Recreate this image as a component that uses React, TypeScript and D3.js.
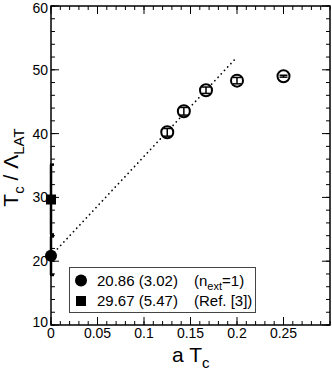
import React from 'react';
import * as d3 from 'd3';

// lattice data: a Tc = 1/Nt
const aTc = [1 / 8, 1 / 7, 1 / 6, 1 / 5, 1 / 4];
const ratio = [40.2, 43.5, 46.8, 48.3, 49.0];
const ratioErr = [0.6, 0.6, 0.5, 0.5, 0.15];

// continuum values at a Tc = 0
const contVal = [20.86, 29.67];
const contErr = [3.02, 5.47];

// linear extrapolation line (n_ext = 1)
const fitX = [0, 0.2];
const fitY = [20.86, 52.0];

const xTicks = [0, 0.05, 0.1, 0.15, 0.2, 0.25];
const yTicks = [10, 20, 30, 40, 50, 60];

const W = 332;
const H = 375;
const margin = { left: 51, right: 2, top: 6, bottom: 50 };

const font = 'Liberation Sans, Arial, Helvetica, sans-serif';

export default function App() {
  const x = d3.scaleLinear().domain([0, 0.3]).range([margin.left, W - margin.right]);
  const y = d3.scaleLinear().domain([10, 60]).range([H - margin.bottom, margin.top]);

  const x0 = x(0);
  const x1 = x(0.3);
  const y0 = y(10);
  const y1 = y(60);

  const xMinor = d3.range(0, 0.3001, 0.01);
  const yMinor = d3.range(10, 60.001, 2);

  const line = d3.line<number>().x((d, i) => x(fitX[i])).y((d) => y(d));

  // nudge the corner labels the way the original does
  const yLabelY = (t: number) => y(t) + 5 + (t === 10 ? -3 : 0) + (t === 60 ? 2 : 0);

  return (
    <svg width={W} height={H} style={{ position: 'absolute', left: 0, top: 0 }}>
      <rect width={W} height={H} fill="white" />

      {/* ticks, inward on all four sides */}
      <g stroke="#000" strokeWidth={1}>
        {xMinor.map((t, i) => (
          <g key={'xm' + i}>
            <line x1={x(t)} x2={x(t)} y1={y0} y2={y0 - 4} />
            <line x1={x(t)} x2={x(t)} y1={y1} y2={y1 + 4} />
          </g>
        ))}
        {yMinor.map((t, i) => (
          <g key={'ym' + i}>
            <line x1={x0} x2={x0 + 4} y1={y(t)} y2={y(t)} />
            <line x1={x1} x2={x1 - 4} y1={y(t)} y2={y(t)} />
          </g>
        ))}
        {xTicks.map((t, i) => (
          <g key={'xM' + i}>
            <line x1={x(t)} x2={x(t)} y1={y0} y2={y0 - 8} />
            <line x1={x(t)} x2={x(t)} y1={y1} y2={y1 + 8} />
          </g>
        ))}
        {yTicks.map((t, i) => (
          <g key={'yM' + i}>
            <line x1={x0} x2={x0 + 8} y1={y(t)} y2={y(t)} />
            <line x1={x1} x2={x1 - 8} y1={y(t)} y2={y(t)} />
          </g>
        ))}
      </g>

      {/* frame */}
      <rect x={x0} y={y1} width={x1 - x0} height={y0 - y1} fill="none" stroke="#000" strokeWidth={1.5} />

      {/* tick labels */}
      <g fontFamily={font} fontSize={14} fill="#000">
        {xTicks.map((t, i) => (
          <text key={'xl' + i} x={x(t)} y={y0 + 13} textAnchor="middle">
            {t === 0 ? '0' : String(t)}
          </text>
        ))}
        {yTicks.map((t, i) => (
          <text key={'yl' + i} x={x0 - 3} y={yLabelY(t)} textAnchor="end">
            {t}
          </text>
        ))}
      </g>

      {/* fit line */}
      <path d={line(fitY) || ''} fill="none" stroke="#000" strokeWidth={1.7} strokeDasharray="0.1 4.6" strokeLinecap="round" />

      {/* lattice points */}
      {aTc.map((a, i) => {
        const cx = x(a);
        const cy = y(ratio[i]);
        const top = y(ratio[i] + ratioErr[i]);
        const bot = y(ratio[i] - ratioErr[i]);
        return (
          <g key={'p' + i} stroke="#000">
            <circle cx={cx} cy={cy} r={6} fill="white" strokeWidth={2} />
            <line x1={cx} x2={cx} y1={top} y2={bot} strokeWidth={1.5} />
            <line x1={cx - 4} x2={cx + 4} y1={top} y2={top} strokeWidth={1.5} />
            <line x1={cx - 4} x2={cx + 4} y1={bot} y2={bot} strokeWidth={1.5} />
          </g>
        );
      })}

      {/* continuum values with error bars */}
      {contVal.map((v, i) => {
        const top = y(v + contErr[i]);
        const bot = y(v - contErr[i]);
        return (
          <g key={'c' + i} stroke="#000" strokeWidth={2.5}>
            <line x1={x0} x2={x0} y1={top} y2={bot} />
            <line x1={x0 - 1} x2={x0 + 3} y1={top} y2={top} />
            <line x1={x0 - 1} x2={x0 + 3} y1={bot} y2={bot} />
          </g>
        );
      })}
      <circle cx={x0} cy={y(contVal[0])} r={6} fill="#000" />
      <rect x={x0 - 5} y={y(contVal[1]) - 5} width={10} height={10} fill="#000" />

      {/* legend */}
      <g fontFamily={font} fontSize={15} fill="#000">
        <rect x={69.5} y={267.5} width={186} height={45} fill="white" stroke="#444" strokeWidth={1} />
        <circle cx={81} cy={280.5} r={6} fill="#000" />
        <rect x={76} y={296} width={10} height={10} fill="#000" />
        <text x={97} y={285.5}>20.86 (3.02)</text>
        <text x={194} y={285.5}>
          (n<tspan fontSize={11} dy={4}>ext</tspan>
          <tspan dy={-4}>=1)</tspan>
        </text>
        <text x={97} y={306}>29.67 (5.47)</text>
        <text x={194} y={306}>(Ref. [3])</text>
      </g>

      {/* axis titles */}
      <text x={172} y={362} fontFamily={font} fontSize={21} fill="#000">
        a T<tspan fontSize={15} dy={6}>c</tspan>
      </text>
      <text
        transform={`translate(18,${(y0 + y1) / 2 + 2}) rotate(-90)`}
        textAnchor="middle"
        fontFamily={font}
        fontSize={21}
        fill="#000"
      >
        T<tspan fontSize={15} dy={6}>c</tspan>
        <tspan dy={-6}> / Λ</tspan>
        <tspan fontSize={15} dy={6}>LAT</tspan>
      </text>
    </svg>
  );
}
